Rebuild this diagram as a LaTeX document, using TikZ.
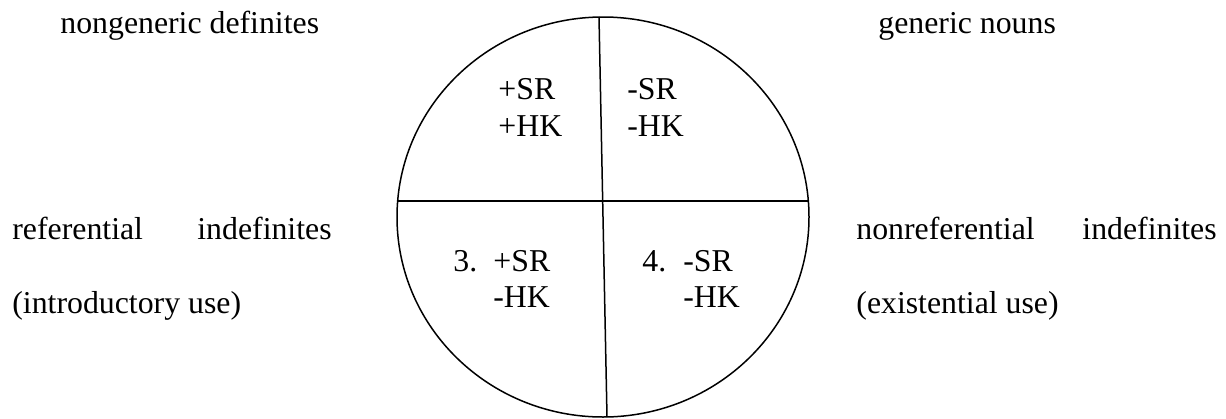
\documentclass[tikz,border=0pt]{standalone}
\usepackage{fontspec}
\setmainfont{Liberation Serif}
\usetikzlibrary{shapes.geometric}
\begin{document}
\begin{tikzpicture}[x=0.5pt,y=-0.5pt,
  lbl/.style={anchor=base west,inner sep=0pt,font=\fontsize{15.9}{19}\selectfont},
  ln/.style={line width=0.75pt}]
\useasboundingbox (0,0) rectangle (1226,418);
\node[draw,ln,ellipse,inner sep=0pt,minimum width=206pt,minimum height=200pt] (circ) at (603,217) {};
\coordinate (vt) at (599,17);
\coordinate (vb) at (607,417);
\coordinate (hl) at (397.5,201);
\coordinate (hr) at (808.5,201);
\draw[ln] (vt) -- (vb);
\draw[ln] (hl) -- (hr);
% outside labels
\node[lbl] (ngd) at (60,33) {nongeneric definites};
\node[lbl] (gn) at (878,33) {generic nouns};
\node[lbl] (ref) at (12,239) {referential};
\node[lbl] (ind1) at (197,239) {indefinites};
\node[lbl] (intro) at (12,313) {(introductory use)};
\node[lbl] (nref) at (856,239) {nonreferential};
\node[lbl] (ind2) at (1082,239) {indefinites};
\node[lbl] (exist) at (856,313) {(existential use)};
% quadrant labels
\node[lbl] (q1a) at (498,99) {+SR};
\node[lbl] (q1b) at (498,136) {+HK};
\node[lbl] (q2a) at (627,99) {-SR};
\node[lbl] (q2b) at (627,136) {-HK};
\node[lbl] (q3n) at (453,271) {3.};
\node[lbl] (q3a) at (493,271) {+SR};
\node[lbl] (q3b) at (493,307) {-HK};
\node[lbl] (q4n) at (642,271) {4.};
\node[lbl] (q4a) at (683,271) {-SR};
\node[lbl] (q4b) at (683,307) {-HK};
\end{tikzpicture}
\end{document}
